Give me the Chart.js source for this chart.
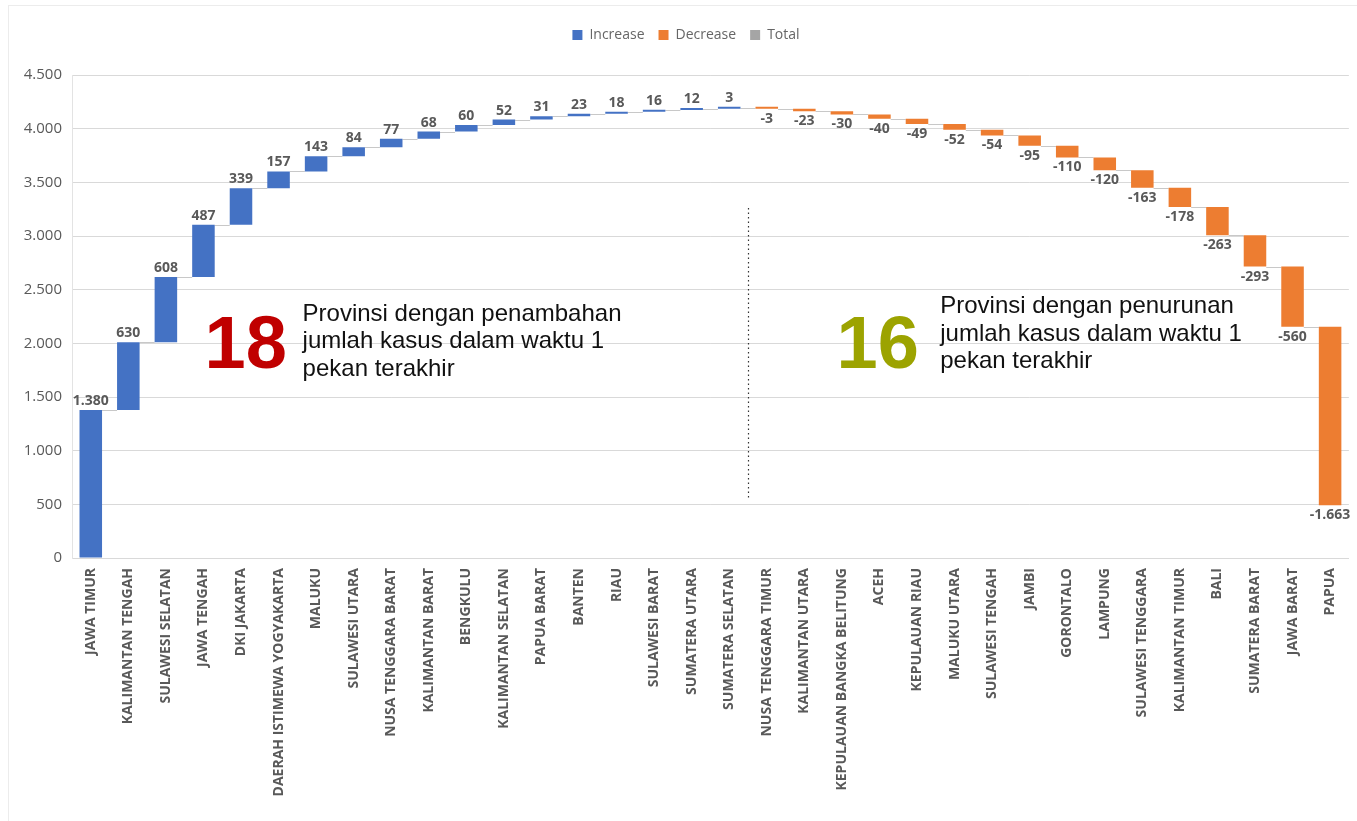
<!DOCTYPE html>
<html>
<head>
<meta charset="utf-8">
<script src="https://cdn.jsdelivr.net/npm/chart.js@4.4.1/dist/chart.umd.min.js"></script>
<style>
  html, body { margin: 0; padding: 0; background: #ffffff; }
  #wrap { position: relative; width: 1357px; height: 821px; overflow: hidden; }
  #frame { position: absolute; left: 8px; top: 5px; width: 1370px; height: 840px; border: 1px solid #ECECEC; box-sizing: border-box; }
  canvas { position: absolute; left: 0; top: 0; }
</style>
</head>
<body>
<div id="wrap">
  <div id="frame"></div>
  <canvas id="c" width="1357" height="821"></canvas>
</div>
<script>
// ---- Data ----
const provinces = [
  "JAWA TIMUR", "KALIMANTAN TENGAH", "SULAWESI SELATAN", "JAWA TENGAH", "DKI JAKARTA",
  "DAERAH ISTIMEWA YOGYAKARTA", "MALUKU", "SULAWESI UTARA", "NUSA TENGGARA BARAT",
  "KALIMANTAN BARAT", "BENGKULU", "KALIMANTAN SELATAN", "PAPUA BARAT", "BANTEN", "RIAU",
  "SULAWESI BARAT", "SUMATERA UTARA", "SUMATERA SELATAN", "NUSA TENGGARA TIMUR",
  "KALIMANTAN UTARA", "KEPULAUAN BANGKA BELITUNG", "ACEH", "KEPULAUAN RIAU", "MALUKU UTARA",
  "SULAWESI TENGAH", "JAMBI", "GORONTALO", "LAMPUNG", "SULAWESI TENGGARA",
  "KALIMANTAN TIMUR", "BALI", "SUMATERA BARAT", "JAWA BARAT", "PAPUA"
];
const changes = [
  1380, 630, 608, 487, 339, 157, 143, 84, 77, 68, 60, 52, 31, 23, 18, 16, 12, 3,
  -3, -23, -30, -40, -49, -52, -54, -95, -110, -120, -163, -178, -263, -293, -560, -1663
];
const seriesNames = ["Increase", "Decrease", "Total"];
const yMin = 0, yMax = 4500, yStep = 500;

// annotation texts
const leftCount = "18";
const leftText = ["Provinsi dengan penambahan", "jumlah kasus dalam waktu 1", "pekan terakhir"];
const rightCount = "16";
const rightText = ["Provinsi dengan penurunan", "jumlah kasus dalam waktu 1", "pekan terakhir"];

// ---- Build floating bars from changes ----
const increaseBars = [];
const decreaseBars = [];
const totalBars = [];
const runningTotals = [];
let running = 0;
changes.forEach(v => {
  const start = running;
  const end = running + v;
  if (v >= 0) { increaseBars.push([start, end]); decreaseBars.push(null); }
  else { increaseBars.push(null); decreaseBars.push([start, end]); }
  totalBars.push(null);
  running = end;
  runningTotals.push(end);
});

function fmt(v) {
  const s = Math.abs(Math.round(v)).toString().replace(/\B(?=(\d{3})+(?!\d))/g, ".");
  return (v < 0 ? "-" : "") + s;
}

const LABEL_COLOR = "#595959";

// connectors + data labels
const waterfallDecor = {
  id: "waterfallDecor",
  beforeDatasetsDraw(chart) {
    const ctx = chart.ctx;
    const xs = chart.scales.x, ys = chart.scales.y;
    const half = (xs.getPixelForValue(1) - xs.getPixelForValue(0)) * 0.3;
    ctx.save();
    ctx.strokeStyle = "#C8C8C8";
    ctx.lineWidth = 1;
    for (let i = 0; i < runningTotals.length - 1; i++) {
      const y = Math.round(ys.getPixelForValue(runningTotals[i])) + 0.5;
      ctx.beginPath();
      ctx.moveTo(xs.getPixelForValue(i) + half, y);
      ctx.lineTo(xs.getPixelForValue(i + 1) - half, y);
      ctx.stroke();
    }
    ctx.restore();
  },
  afterDatasetsDraw(chart) {
    const ctx = chart.ctx;
    ctx.save();
    ctx.font = "bold 14px 'Open Sans'";
    ctx.fillStyle = LABEL_COLOR;
    ctx.textAlign = "center";
    [0, 1].forEach(di => {
      const meta = chart.getDatasetMeta(di);
      meta.data.forEach((bar, i) => {
        const d = chart.data.datasets[di].data[i];
        if (!d) return;
        const v = changes[i];
        if (v >= 0) {
          ctx.textBaseline = "bottom";
          ctx.fillText(fmt(v), bar.x, Math.min(bar.y, bar.base) - 2);
        } else {
          ctx.textBaseline = "top";
          ctx.fillText(fmt(v), bar.x, Math.max(bar.y, bar.base) + 3);
        }
      });
    });
    ctx.restore();
  },
  afterDraw(chart) {
    const ctx = chart.ctx;
    const xs = chart.scales.x, ys = chart.scales.y;
    // dotted divider between last increase and first decrease
    const nInc = changes.filter(v => v >= 0).length;
    const dx = Math.round((xs.getPixelForValue(nInc - 1) + xs.getPixelForValue(nInc)) / 2) + 0.5;
    ctx.save();
    ctx.strokeStyle = "#333333";
    ctx.lineWidth = 1.2;
    ctx.setLineDash([1.5, 3]);
    ctx.beginPath();
    ctx.moveTo(dx, ys.getPixelForValue(3260));
    ctx.lineTo(dx, ys.getPixelForValue(560));
    ctx.stroke();
    ctx.restore();

    // annotations anchored in data space
    ctx.save();
    ctx.textAlign = "left";
    ctx.textBaseline = "alphabetic";
    ctx.font = "bold 74px 'Liberation Sans', Arial, sans-serif";
    ctx.fillStyle = "#C00000";
    ctx.fillText(leftCount, xs.getPixelForValue(3.03), ys.getPixelForValue(1770));
    ctx.fillStyle = "#9CA300";
    ctx.fillText(rightCount, xs.getPixelForValue(19.86), ys.getPixelForValue(1770));
    ctx.font = "24px 'Liberation Sans', Arial, sans-serif";
    ctx.fillStyle = "#111111";
    let x1 = xs.getPixelForValue(5.64), y1 = ys.getPixelForValue(2212);
    leftText.forEach((t, k) => ctx.fillText(t, x1, y1 + k * 27.5));
    let x2 = xs.getPixelForValue(22.62), y2 = ys.getPixelForValue(2280);
    rightText.forEach((t, k) => ctx.fillText(t, x2, y2 + k * 27.5));
    ctx.restore();
  }
};

const legendSpacer = {
  id: "legendSpacer",
  beforeLayout(chart) {
    const lg = chart.legend;
    if (lg && !lg._spaced) {
      const orig = lg.fit;
      lg.fit = function () { orig.call(this); this.height = 61; };
      lg._spaced = true;
    }
  }
};

new Chart(document.getElementById("c"), {
  type: "bar",
  data: {
    labels: provinces,
    datasets: [
      { label: seriesNames[0], data: increaseBars, backgroundColor: "#4472C4", grouped: false, minBarLength: 2 },
      { label: seriesNames[1], data: decreaseBars, backgroundColor: "#ED7D31", grouped: false, minBarLength: 2 },
      { label: seriesNames[2], data: totalBars, backgroundColor: "#A5A5A5", grouped: false }
    ]
  },
  options: {
    responsive: false,
    animation: false,
    devicePixelRatio: 1,
    categoryPercentage: 1.0,
    barPercentage: 0.6,
    layout: { padding: { left: 22, right: 7, top: 14, bottom: 0 } },
    plugins: {
      legend: {
        position: "top",
        labels: {
          boxWidth: 10, boxHeight: 10, padding: 14,
          color: "#666666",
          font: { family: "'Open Sans'", size: 14 }
        }
      },
      tooltip: { enabled: false }
    },
    scales: {
      x: {
        grid: { display: false, drawTicks: false },
        border: { display: true, color: "#D9D9D9" },
        ticks: {
          autoSkip: false, maxRotation: 90, minRotation: 90, padding: 10,
          color: LABEL_COLOR,
          font: { family: "'Open Sans'", size: 14, weight: "bold" }
        },
        afterFit(scale) { scale.height = 263; }
      },
      y: {
        min: yMin, max: yMax,
        grid: { color: "#D9D9D9", drawTicks: false },
        border: { display: true, color: "#E3E3E3" },
        ticks: {
          stepSize: yStep, padding: 10,
          color: LABEL_COLOR,
          font: { family: "'Open Sans'", size: 15 },
          callback: v => fmt(v)
        },
        afterFit(scale) { scale.width = 50; }
      }
    }
  },
  plugins: [legendSpacer, waterfallDecor]
});
</script>
</body>
</html>
